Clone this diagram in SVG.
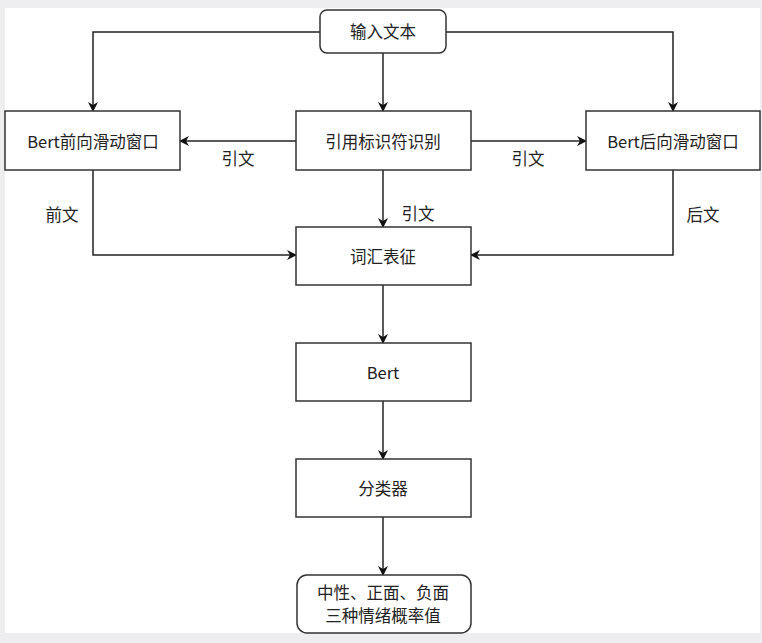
<svg xmlns="http://www.w3.org/2000/svg" width="762" height="643" viewBox="0 0 762 643">
<style>
.box{fill:#fff;stroke:#333;stroke-width:1.5}
.t{font-family:"Noto Sans CJK SC","Noto Sans",sans-serif;font-size:16.5px;fill:#222;text-anchor:middle;dominant-baseline:central}
.e{fill:none;stroke:#222;stroke-width:1.5}
</style>
<defs>
<marker id="a" viewBox="0 0 10 10" refX="9" refY="5" markerWidth="10" markerHeight="10" markerUnits="userSpaceOnUse" orient="auto">
<path d="M0,0 L10,5 L0,10 L3,5 Z" fill="#111"/>
</marker>
</defs>
<rect width="762" height="643" fill="#eeeef0"/>
<rect x="5" y="8" width="755" height="625" fill="#fff"/>
<g id="connectors">
<path class="e" d="M320,32 H93 V111" marker-end="url(#a)"/>
<path class="e" d="M446,32 H673 V111" marker-end="url(#a)"/>
<path class="e" d="M383,53 V111" marker-end="url(#a)"/>
<path class="e" d="M296,141 H180" marker-end="url(#a)"/>
<path class="e" d="M471,141 H586" marker-end="url(#a)"/>
<path class="e" d="M383,170 V227" marker-end="url(#a)"/>
<path class="e" d="M93,170 V255 H296" marker-end="url(#a)"/>
<path class="e" d="M673,170 V255 H471" marker-end="url(#a)"/>
<path class="e" d="M383,285 V343" marker-end="url(#a)"/>
<path class="e" d="M383,401 V459" marker-end="url(#a)"/>
<path class="e" d="M383,517 V575" marker-end="url(#a)"/>
<text class="t" x="238" y="158">引文</text>
<text class="t" x="528" y="158">引文</text>
<text class="t" x="418" y="213">引文</text>
<text class="t" x="62" y="214">前文</text>
<text class="t" x="703" y="214">后文</text>
</g>
<g id="input"><rect class="box" x="320" y="10" width="126" height="43" rx="7"/><text class="t" x="383" y="31">输入文本</text></g>
<g id="fwd"><rect class="box" x="5" y="111" width="175" height="59"/><text class="t" x="93" y="141">Bert前向滑动窗口</text></g>
<g id="cite"><rect class="box" x="296" y="111" width="175" height="59"/><text class="t" x="383" y="141">引用标识符识别</text></g>
<g id="bwd"><rect class="box" x="586" y="111" width="174" height="59"/><text class="t" x="673" y="141">Bert后向滑动窗口</text></g>
<g id="vocab"><rect class="box" x="296" y="227" width="175" height="58"/><text class="t" x="383" y="256">词汇表征</text></g>
<g id="bert"><rect class="box" x="296" y="343" width="175" height="58"/><text class="t" x="383" y="372">Bert</text></g>
<g id="clf"><rect class="box" x="296" y="459" width="175" height="58"/><text class="t" x="383" y="488">分类器</text></g>
<g id="out"><rect class="box" x="297" y="575" width="174" height="58" rx="10"/><text class="t" x="383" y="592">中性、正面、负面</text><text class="t" x="383" y="615">三种情绪概率值</text></g>
</svg>
